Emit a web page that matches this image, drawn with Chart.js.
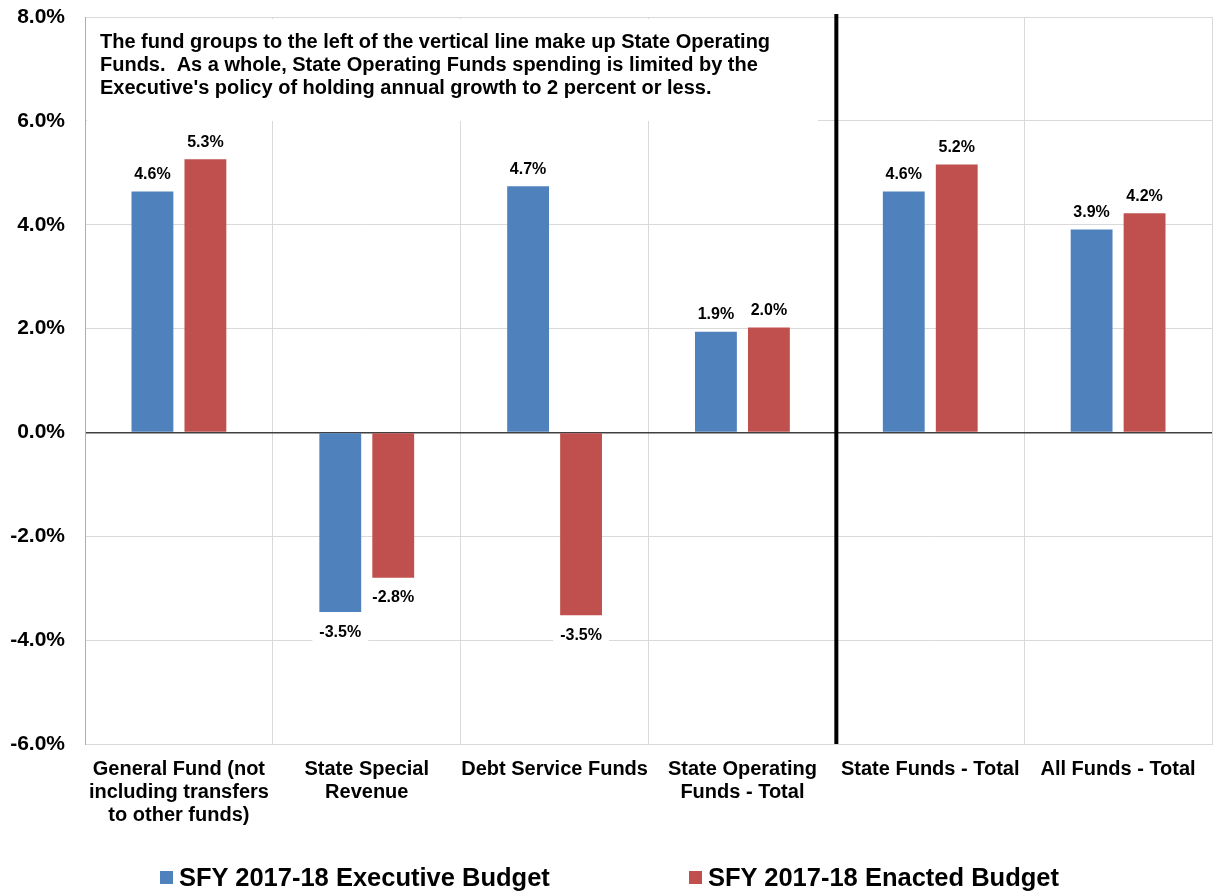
<!DOCTYPE html>
<html>
<head>
<meta charset="utf-8">
<script src="https://cdn.jsdelivr.net/npm/chart.js@4"></script>
<style>
  body { margin: 0; background: #fff; }
  #wrap { position: relative; width: 1214px; height: 892px; }
  .legend-item { position: absolute; top: 862px; font: bold 25.5px "Liberation Sans", Arial, sans-serif; color: #000; white-space: nowrap; line-height: 30px; }
  .legend-item i { display: inline-block; width: 13px; height: 13px; margin-right: 6px; vertical-align: 2px; }
</style>
</head>
<body>
<div id="wrap">
  <canvas id="barChart" width="1214" height="892"></canvas>
  <div class="legend-item" style="left:160px"><i style="background:#4f81bd"></i>SFY 2017-18 Executive Budget</div>
  <div class="legend-item" style="left:689px"><i style="background:#c0504d"></i>SFY 2017-18 Enacted Budget</div>
</div>
<script>
const categories = [
    ['General Fund (not', 'including transfers', 'to other funds)'],
    ['State Special', 'Revenue'],
    'Debt Service Funds',
    ['State Operating', 'Funds - Total'],
    'State Funds - Total',
    'All Funds - Total'
];
const executiveBudget = [4.64, -3.46, 4.74, 1.94, 4.64, 3.91];
const enactedBudget = [5.26, -2.80, -3.52, 2.02, 5.16, 4.22];
const noteLines = [
    'The fund groups to the left of the vertical line make up State Operating',
    'Funds.  As a whole, State Operating Funds spending is limited by the',
    "Executive's policy of holding annual growth to 2 percent or less."
];

const FONT = '"Liberation Sans", Arial, sans-serif';

// value labels above / below each bar, on a white patch
const barLabels = {
    id: 'barLabels',
    afterDatasetsDraw(chart) {
        const ctx = chart.ctx;
        ctx.save();
        ctx.font = 'bold 16px ' + FONT;
        ctx.textAlign = 'center';
        ctx.textBaseline = 'middle';
        chart.data.datasets.forEach((ds, i) => {
            chart.getDatasetMeta(i).data.forEach((bar, j) => {
                const v = ds.data[j];
                const txt = v.toFixed(1) + '%';
                const y = v >= 0 ? bar.y - 17 : bar.y + 20;
                const w = ctx.measureText(txt).width + 14;
                ctx.fillStyle = '#fff';
                ctx.fillRect(bar.x - w / 2, y - 11, w, 22);
                ctx.fillStyle = '#000';
                ctx.fillText(txt, bar.x, y);
            });
        });
        ctx.restore();
    }
};

// note box + thick divider between State Operating Funds and the totals
const overlay = {
    id: 'overlay',
    afterDraw(chart) {
        const ctx = chart.ctx;
        const x = chart.scales.x;
        const y = chart.scales.y;
        ctx.save();
        ctx.fillStyle = '#fff';
        ctx.fillRect(x.left + 2, y.top + 2, 731, 102);
        ctx.fillStyle = '#000';
        ctx.font = 'bold 20px ' + FONT;
        ctx.textBaseline = 'middle';
        noteLines.forEach((line, i) => {
            ctx.fillText(line, x.left + 15, y.top + 25 + i * 23);
        });
        const divX = (x.getPixelForValue(3) + x.getPixelForValue(4)) / 2;
        ctx.strokeStyle = '#000';
        ctx.lineWidth = 4;
        ctx.beginPath();
        ctx.moveTo(divX, y.top - 3);
        ctx.lineTo(divX, y.bottom);
        ctx.stroke();
        ctx.restore();
    }
};

new Chart(document.getElementById('barChart'), {
    type: 'bar',
    data: {
        labels: categories,
        datasets: [
            {
                label: 'SFY 2017-18 Executive Budget',
                data: executiveBudget,
                backgroundColor: '#4f81bd'
            },
            {
                label: 'SFY 2017-18 Enacted Budget',
                data: enactedBudget,
                backgroundColor: '#c0504d'
            }
        ]
    },
    options: {
        responsive: false,
        animation: false,
        categoryPercentage: 0.564,
        barPercentage: 0.79,
        layout: { padding: { top: 17, right: 2, bottom: 0, left: 0 } },
        plugins: {
            legend: { display: false },
            tooltip: { enabled: false }
        },
        scales: {
            x: {
                grid: {
                    color: (c) => c.index === 0 ? 'rgba(0,0,0,0)' : '#d9d9d9',
                    drawTicks: false
                },
                border: { color: '#d9d9d9' },
                ticks: {
                    color: '#000',
                    padding: 14,
                    maxRotation: 0,
                    autoSkip: false,
                    font: { family: FONT, size: 20, weight: 'bold', lineHeight: 1.15 }
                },
                afterFit: (scale) => {
                    scale.height = 148;
                    scale.paddingLeft = 0;
                    scale.paddingRight = 0;
                }
            },
            y: {
                min: -6,
                max: 8,
                ticks: {
                    stepSize: 2,
                    color: '#000',
                    padding: 20,
                    font: { family: FONT, size: 21, weight: 'bold' },
                    callback: (v) => v.toFixed(1) + '%'
                },
                grid: {
                    color: (c) => c.tick.value === 0 ? '#404040' : '#d9d9d9',
                    lineWidth: (c) => c.tick.value === 0 ? 1.5 : 1,
                    drawTicks: false
                },
                border: { color: '#8db3e2' },
                afterFit: (scale) => {
                    scale.width = 85;
                    scale.paddingTop = 0;
                    scale.paddingBottom = 0;
                }
            }
        }
    },
    plugins: [barLabels, overlay]
});
</script>
</body>
</html>
